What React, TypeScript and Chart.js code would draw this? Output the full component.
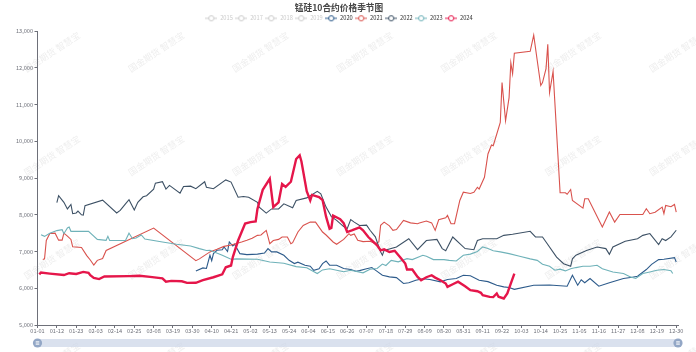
import React, { useEffect, useRef } from 'react';
import { Chart, registerables } from 'chart.js';

Chart.register(...registerables);

// ---------- categories (MM-DD of a 365-day year) ----------
const monthLengths = [31, 28, 31, 30, 31, 30, 31, 31, 30, 31, 30, 31];
const days: string[] = [];
monthLengths.forEach((n, m) => {
  for (let d = 1; d <= n; d++) days.push(`${String(m + 1).padStart(2, '0')}-${String(d).padStart(2, '0')}`);
});

const title = '锰硅10合约价格季节图';
const watermarkText = '国金期货 智慧宝';
const yMin = 5000;
const yMax = 13000;
const yStep = 1000;
const xTickEvery = 11;

const legendYears = ['2015', '2017', '2018', '2019', '2020', '2021', '2022', '2023', '2024'];
const inactiveYears = ['2015', '2017', '2018', '2019'];

// ---------- series values ----------
const s2020: [string, number][] = [
  ['04-01', 6470], ['04-05', 6555], ['04-07', 6540], ['04-09', 6898], ['04-10', 6750], ['04-11', 6943], ['04-13', 7034],
  ['04-16', 7050], ['04-17', 7125], ['04-19', 7000], ['04-20', 7260], ['04-22', 7150], ['04-23', 7200], ['04-26', 6943],
  ['04-30', 6915], ['05-06', 6930], ['05-10', 6960], ['05-12', 7080], ['05-14', 6990], ['05-17', 6990], ['05-21', 6898],
  ['05-24', 6762], ['05-27', 6672], ['05-29', 6710], ['06-02', 6627], ['06-05', 6600], ['06-07', 6490], ['06-10', 6530],
  ['06-12', 6672], ['06-14', 6744], ['06-16', 6630], ['06-20', 6627], ['06-24', 6537], ['06-28', 6510], ['07-01', 6464],
  ['07-03', 6480], ['07-07', 6530], ['07-10', 6563], ['07-13', 6460], ['07-16', 6355], ['07-20', 6310], ['07-24', 6290],
  ['07-28', 6130], ['07-31', 6150], ['08-04', 6220], ['08-08', 6260], ['08-12', 6240], ['08-18', 6175], ['08-22', 6240],
  ['08-27', 6266], ['08-31', 6355], ['09-04', 6340], ['09-09', 6220], ['09-14', 6180], ['09-19', 6084], ['09-23', 6039],
  ['09-26', 6020], ['09-29', 5970], ['10-10', 6084], ['10-19', 6090], ['10-29', 6057], ['11-01', 6355], ['11-04', 6084],
  ['11-06', 6230], ['11-08', 6150], ['11-11', 6266], ['11-16', 6057], ['11-22', 6150], ['11-30', 6266], ['12-05', 6300],
  ['12-08', 6329], ['12-13', 6510], ['12-16', 6650], ['12-20', 6780], ['12-23', 6790], ['12-29', 6834], ['12-30', 6716],
];

const s2021: [string, number][] = [
  ['01-04', 6780], ['01-05', 6800], ['01-06', 7300], ['01-08', 7490], ['01-11', 7500], ['01-13', 7310], ['01-15', 7310],
  ['01-16', 7500], ['01-18', 7420], ['01-20', 7330], ['01-21', 7130], ['01-26', 7110], ['01-29', 6890], ['01-31', 6770],
  ['02-02', 6630], ['02-04', 6760], ['02-07', 6810], ['02-09', 7030], ['03-08', 7640], ['04-01', 6750], ['04-03', 6800],
  ['04-09', 6990], ['04-13', 7060], ['04-17', 7140], ['04-21', 7180], ['04-27', 7260], ['04-30', 7305], ['05-03', 7360],
  ['05-06', 7440], ['05-08', 7450], ['05-11', 7576], ['05-12', 7400], ['05-13', 7215], ['05-15', 7300], ['05-18', 7330],
  ['05-20', 7395], ['05-23', 7395], ['05-25', 7215], ['05-26', 7240], ['05-29', 7531], ['06-01', 7712], ['06-05', 7801],
  ['06-08', 7800], ['06-10', 7666], ['06-12', 7531], ['06-14', 7450], ['06-18', 7260], ['06-20', 7197], ['06-24', 7330],
  ['06-27', 7486], ['06-28', 7440], ['06-30', 7480], ['07-02', 7305], ['07-05', 7270], ['07-09', 7280], ['07-12', 7215],
  ['07-14', 7260], ['07-15', 7712], ['07-17', 7801], ['07-20', 7700], ['07-22', 7576], ['07-24', 7600], ['07-28', 7847],
  ['08-01', 7780], ['08-05', 7757], ['08-06', 7775], ['08-10', 7829], ['08-13', 7780], ['08-15', 7576], ['08-17', 7866],
  ['08-21', 7920], ['08-22', 7983], ['08-24', 7757], ['08-26', 7760], ['08-29', 8390], ['08-31', 8615], ['09-04', 8580],
  ['09-06', 8615], ['09-08', 8750], ['09-09', 8700], ['09-12', 9022], ['09-14', 9656], ['09-16', 9900], ['09-17', 9880],
  ['09-21', 10513], ['09-22', 11598], ['09-24', 10560], ['09-26', 11191], ['09-27', 12140], ['09-28', 11840],
  ['09-29', 12400], ['10-08', 12450], ['10-10', 12890], ['10-12', 12200], ['10-14', 11520], ['10-15', 11600],
  ['10-17', 11980], ['10-18', 12640], ['10-19', 11327], ['10-21', 11900], ['10-25', 8600], ['10-28', 8600],
  ['10-29', 8560], ['10-31', 8688], ['11-01', 8390], ['11-07', 8182], ['11-08', 8435], ['11-10', 8435], ['11-18', 7666],
  ['11-22', 8074], ['11-25', 7801], ['11-28', 8010], ['12-11', 8010], ['12-13', 8164], ['12-15', 8030], ['12-18', 8070],
  ['12-22', 8210], ['12-23', 8030], ['12-24', 8254], ['12-27', 8220], ['12-29', 8281], ['12-30', 8074],
];

const s2022: [string, number][] = [
  ['01-12', 8330], ['01-13', 8520], ['01-16', 8340], ['01-18', 8160], ['01-20', 8280], ['01-21', 8030], ['01-23', 8050],
  ['01-24', 8100], ['01-26', 8000], ['01-27', 7990], ['01-28', 8250], ['02-07', 8400], ['02-15', 8050], ['02-17', 8120],
  ['02-20', 8300], ['02-22', 8410], ['02-25', 8130], ['02-27', 8340], ['03-02', 8490], ['03-04', 8520], ['03-08', 8700],
  ['03-09', 8860], ['03-13', 8900], ['03-15', 8700], ['03-17', 8800], ['03-23', 8590], ['03-25', 8770], ['03-29', 8780],
  ['04-01', 8710], ['04-06', 8900], ['04-07', 8750], ['04-11', 8710], ['04-18', 8950], ['04-21', 8890], ['04-25', 8480],
  ['04-28', 8500], ['05-01', 8480], ['05-06', 8340], ['05-07', 8210], ['05-11', 8045], ['05-14', 8160], ['05-18', 8160],
  ['05-21', 8300], ['05-26', 8190], ['05-28', 8390], ['06-03', 8460], ['06-09', 8640], ['06-11', 8570], ['06-14', 8210],
  ['06-17', 7950], ['06-20', 7850], ['06-24', 7680], ['06-26', 7620], ['06-28', 7870], ['06-30', 7800], ['07-03', 7710],
  ['07-07', 7720], ['07-09', 7580], ['07-12', 7400], ['07-15', 6990], ['07-16', 6900], ['07-17', 7030], ['07-24', 7125],
  ['07-31', 7350], ['08-05', 7050], ['08-10', 7300], ['08-16', 7330], ['08-19', 7080], ['08-21', 7020], ['08-25', 7395],
  ['08-29', 7215], ['09-01', 7080], ['09-06', 7050], ['09-08', 7300], ['09-11', 7350], ['09-19', 7350], ['09-23', 7440],
  ['09-28', 7470], ['10-08', 7550], ['10-11', 7400], ['10-15', 7395], ['10-17', 7260], ['10-23', 6850], ['10-27', 6670],
  ['10-31', 6600], ['11-01', 6800], ['11-03', 6900], ['11-09', 7030], ['11-15', 7125], ['11-20', 7080], ['11-22', 6925],
  ['11-24', 7125], ['12-01', 7280], ['12-08', 7350], ['12-11', 7440], ['12-15', 7490], ['12-20', 7190], ['12-22', 7350],
  ['12-24', 7300], ['12-27', 7400], ['12-30', 7580],
];

const s2023: [string, number][] = [
  ['01-03', 7460], ['01-05', 7413], ['01-08', 7500], ['01-12', 7570], ['01-15', 7595], ['01-16', 7486], ['01-18', 7640],
  ['01-19', 7666], ['01-20', 7550], ['01-30', 7549], ['02-04', 7330], ['02-09', 7305], ['02-10', 7413], ['02-11', 7300],
  ['02-20', 7300], ['02-22', 7500], ['02-24', 7350], ['02-26', 7370], ['03-01', 7450], ['03-03', 7340], ['03-13', 7260],
  ['03-21', 7200], ['03-29', 7150], ['04-03', 7080], ['04-07', 7030], ['04-09', 7034], ['04-16', 6900], ['04-21', 6790],
  ['04-24', 6800], ['05-06', 6790], ['05-13', 6716], ['05-21', 6680], ['05-28', 6590], ['06-03', 6560], ['06-09', 6400],
  ['06-12', 6500], ['06-16', 6530], ['06-24', 6450], ['06-28', 6490], ['07-05', 6420], ['07-09', 6520], ['07-13', 6537],
  ['07-16', 6660], ['07-18', 6620], ['07-21', 6760], ['07-25', 6720], ['07-30', 6807], ['08-02', 6780], ['08-08', 6898],
  ['08-10', 6870], ['08-14', 6780], ['08-20', 6780], ['08-23', 6760], ['08-27', 6744], ['08-31', 6898], ['09-04', 6930],
  ['09-08', 7000], ['09-11', 7125], ['09-14', 7080], ['09-17', 7020], ['09-21', 6990], ['09-26', 6943], ['10-02', 6870],
  ['10-08', 6800], ['10-12', 6760], ['10-15', 6654], ['10-19', 6600], ['10-22', 6490], ['10-25', 6520], ['10-28', 6473],
  ['10-31', 6530], ['11-03', 6563], ['11-07', 6600], ['11-11', 6600], ['11-15', 6627], ['11-18', 6530], ['11-24', 6445],
  ['11-30', 6400], ['12-04', 6310], ['12-07', 6266], ['12-11', 6400], ['12-15', 6445], ['12-19', 6490], ['12-23', 6510],
  ['12-27', 6480], ['12-28', 6400],
];

const s2024: [string, number][] = [
  ['01-02', 6380], ['01-03', 6430], ['01-08', 6400], ['01-16', 6360], ['01-19', 6410], ['01-23', 6390], ['01-27', 6445],
  ['01-30', 6420], ['01-31', 6355], ['02-02', 6280], ['02-05', 6250], ['02-08', 6320], ['02-22', 6330], ['02-28', 6340],
  ['03-06', 6310], ['03-13', 6270], ['03-15', 6180], ['03-18', 6200], ['03-24', 6190], ['03-27', 6147], ['04-01', 6150],
  ['04-05', 6220], ['04-11', 6300], ['04-16', 6380], ['04-18', 6570], ['04-21', 6620], ['04-22', 6850], ['04-25', 7300],
  ['04-29', 7760], ['05-02', 7800], ['05-05', 7820], ['05-06', 8160], ['05-09', 8680], ['05-13', 8980], ['05-15', 8210],
  ['05-18', 8340], ['05-20', 8840], ['05-22', 8760], ['05-25', 8900], ['05-28', 9520], ['05-30', 9620], ['05-31', 9450],
  ['06-03', 8640], ['06-05', 8390], ['06-06', 8540], ['06-10', 8480], ['06-12', 8400], ['06-14', 7950], ['06-16', 7620],
  ['06-17', 7640], ['06-18', 7980], ['06-22', 7880], ['06-24', 7770], ['06-26', 7530], ['06-29', 7580], ['07-03', 7660],
  ['07-05', 7580], ['07-08', 7395], ['07-10', 7305], ['07-13', 7170], ['07-15', 7034], ['07-17', 7060], ['07-20', 6988],
  ['07-23', 7020], ['07-26', 6852], ['07-29', 6672], ['07-30', 6510], ['08-02', 6510], ['08-05', 6310], ['08-07', 6220],
  ['08-10', 6300], ['08-13', 6355], ['08-15', 6290], ['08-18', 6220], ['08-21', 6130], ['08-22', 6039], ['08-25', 6110],
  ['08-28', 6180], ['09-01', 6057], ['09-04', 5949], ['09-08', 5920], ['09-10', 5876], ['09-11', 5813], ['09-15', 5767],
  ['09-17', 5760], ['09-19', 5858], ['09-20', 5770], ['09-23', 5722], ['09-25', 5858], ['09-26', 6000], ['09-29', 6400],
];

const seriesByYear: Record<string, [string, number][]> = {
  '2020': s2020, '2021': s2021, '2022': s2022, '2023': s2023, '2024': s2024,
};
const colorByYear: Record<string, string> = {
  '2015': '#cccccc', '2017': '#cccccc', '2018': '#cccccc', '2019': '#cccccc',
  '2020': '#2d5b8b', '2021': '#d9524d', '2022': '#3d5165', '2023': '#6fb2b9', '2024': '#e5164a',
};

const FONT = '"Noto Sans CJK SC", "Noto Sans", sans-serif';

const iconCache: Record<string, HTMLCanvasElement> = {};
function legendIcon(color: string): HTMLCanvasElement {
  if (iconCache[color]) return iconCache[color];
  const c = document.createElement('canvas');
  c.width = 12;
  c.height = 8;
  const g = c.getContext('2d')!;
  g.strokeStyle = color;
  g.lineWidth = 1;
  g.beginPath();
  g.moveTo(0, 4);
  g.lineTo(12, 4);
  g.stroke();
  g.beginPath();
  g.arc(6, 4, 2.6, 0, Math.PI * 2);
  g.fillStyle = '#fff';
  g.fill();
  g.stroke();
  iconCache[color] = c;
  return c;
}

const watermarkPlugin = {
  id: 'watermark',
  beforeDraw(chart: any) {
    const ctx = chart.ctx as CanvasRenderingContext2D;
    ctx.save();
    ctx.fillStyle = 'rgba(110,110,110,0.12)';
    ctx.font = `9px ${FONT}`;
    ctx.textAlign = 'center';
    ctx.textBaseline = 'middle';
    for (let i = 0; i < 7; i++) {
      for (let j = 0; j < 4; j++) {
        ctx.save();
        ctx.translate(52 + i * 104.2, 52 + j * 103.5);
        ctx.rotate(-0.58);
        ctx.fillText(watermarkText, 0, 0);
        ctx.restore();
      }
    }
    ctx.restore();
  },
};

const sliderPlugin = {
  id: 'zoomSlider',
  afterDraw(chart: any) {
    const ctx = chart.ctx as CanvasRenderingContext2D;
    const { left, right } = chart.chartArea;
    const top = 339;
    const h = 8;
    ctx.save();
    ctx.fillStyle = 'rgba(205,215,232,0.75)';
    ctx.beginPath();
    ctx.rect(left, top, right - left, h);
    ctx.fill();
    for (const cx of [left, right]) {
      ctx.beginPath();
      ctx.arc(cx, top + h / 2, 4.6, 0, Math.PI * 2);
      ctx.fillStyle = '#93a7c6';
      ctx.fill();
      ctx.strokeStyle = '#ffffff';
      ctx.lineWidth = 0.8;
      for (const dy of [-1.3, 0, 1.3]) {
        ctx.beginPath();
        ctx.moveTo(cx - 1.8, top + h / 2 + dy);
        ctx.lineTo(cx + 1.8, top + h / 2 + dy);
        ctx.stroke();
      }
    }
    ctx.restore();
  },
};

export default function App() {
  const ref = useRef<HTMLCanvasElement | null>(null);

  useEffect(() => {
    document.body.style.margin = '0';
    const canvas = ref.current;
    if (!canvas) return;

    const datasets = legendYears.map((y, i) => {
      const pts = seriesByYear[y] || [];
      return {
        label: y,
        data: pts.map(([d, v]) => ({ x: days.indexOf(d), y: v })),
        borderColor: colorByYear[y],
        backgroundColor: colorByYear[y],
        borderWidth: y === '2024' ? 2.4 : 1.1,
        pointRadius: 0,
        pointHoverRadius: 0,
        tension: 0,
        fill: false,
        order: legendYears.length - i,
      };
    });

    const chart = new Chart(canvas, {
      type: 'line',
      data: { datasets },
      plugins: [watermarkPlugin, sliderPlugin],
      options: {
        animation: false,
        responsive: false,
        devicePixelRatio: 1,
        locale: 'en-US',
        events: [],
        layout: { padding: { left: 0, right: 18, top: 0, bottom: 15 } },
        plugins: {
          title: {
            display: true,
            text: title,
            color: '#464646',
            font: { family: FONT, size: 8.7, weight: 'bold' },
            padding: { top: 2.5, bottom: 0 },
          },
          legend: {
            display: true,
            position: 'top',
            labels: {
              usePointStyle: true,
              pointStyleWidth: 12,
              padding: 2.5,
              font: { family: FONT, size: 5.7 },
              generateLabels: (ch: any) =>
                ch.data.datasets.map((ds: any, i: number) => {
                  const active = !inactiveYears.includes(ds.label);
                  const col = active ? ds.borderColor : '#cccccc';
                  return {
                    text: ds.label,
                    fillStyle: '#ffffff',
                    strokeStyle: col,
                    lineWidth: 1,
                    pointStyle: legendIcon(col),
                    hidden: false,
                    fontColor: active ? '#333333' : '#cccccc',
                    datasetIndex: i,
                  };
                }),
            },
          },
          tooltip: { enabled: false },
        },
        scales: {
          x: {
            type: 'linear',
            min: 0,
            max: days.length - 1,
            ticks: {
              stepSize: xTickEvery,
              includeBounds: false,
              autoSkip: false,
              maxRotation: 0,
              minRotation: 0,
              padding: 0,
              color: '#6e7079',
              font: { family: FONT, size: 5.6 },
              callback: (v: any) => days[Math.round(v)],
            },
            grid: { drawOnChartArea: false, drawTicks: true, tickLength: 3, color: '#6e7079', lineWidth: 1 },
            border: { display: true, color: '#6e7079', width: 1 },
            afterFit: (s: any) => {
              s.height = 12;
            },
          },
          y: {
            type: 'linear',
            min: yMin,
            max: yMax,
            ticks: {
              stepSize: yStep,
              padding: 1.5,
              color: '#6e7079',
              font: { family: FONT, size: 5.6 },
            },
            grid: { drawOnChartArea: false, drawTicks: true, tickLength: 3, color: '#6e7079', lineWidth: 1 },
            border: { display: true, color: '#6e7079', width: 1 },
            afterFit: (s: any) => {
              s.width = 37.5;
            },
          },
        },
      } as any,
    });

    return () => {
      chart.destroy();
    };
  }, []);

  return (
    <div style={{ width: 696, height: 352 }}>
      <canvas ref={ref} width={696} height={352} style={{ display: 'block', width: 696, height: 352 }} />
    </div>
  );
}
